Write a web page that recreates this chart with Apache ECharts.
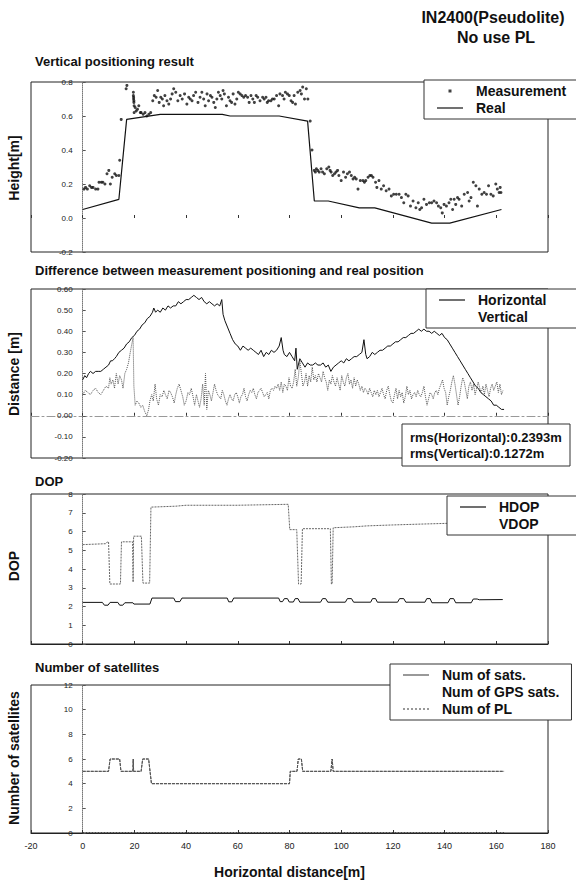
<!DOCTYPE html>
<html><head><meta charset="utf-8">
<script src="https://cdn.jsdelivr.net/npm/echarts@6/dist/echarts.min.js"></script>
<style>html,body{margin:0;padding:0;background:#fff}#c{width:576px;height:880px}</style>
</head><body><div id="c"></div>
<script>
// ---------------- DATA ----------------
const xTicks = [-20, 0, 20, 40, 60, 80, 100, 120, 140, 160, 180];
const heightTicks = [-0.2, 0.0, 0.2, 0.4, 0.6, 0.8];
const distTicks = [-0.2, -0.1, 0.0, 0.1, 0.2, 0.3, 0.4, 0.5, 0.6];
const dopTicks = [0, 1, 2, 3, 4, 5, 6, 7, 8];
const satTicks = [0, 2, 4, 6, 8, 10, 12];

const measurement = [[0.5,0.17],[1.1,0.18],[1.8,0.17],[2.7,0.19],[3.4,0.18],[4.0,0.18],[5.0,0.17],[5.9,0.17],[6.3,0.21],[7.2,0.21],[7.8,0.21],[8.6,0.20],[9.4,0.26],[10.1,0.28],[10.7,0.20],[11.4,0.24],[12.4,0.26],[13.0,0.25],[14.0,0.25],[14.3,0.34],[14.9,0.58],
[16.8,0.76],[17.1,0.78],
[19.6,0.74],[19.6,0.72],[19.7,0.71],[19.7,0.70],[19.8,0.69],[19.8,0.68],[19.9,0.66],[19.9,0.62],[20.3,0.65],[20.7,0.63],[21.2,0.64],[21.7,0.66],[22.3,0.62],[22.6,0.62],[23.4,0.61],[24.1,0.62],[24.8,0.60],[25.6,0.61],[26.3,0.62],
[27.1,0.69],[27.7,0.72],[28.4,0.71],[29.0,0.75],[29.6,0.68],[30.2,0.71],[30.8,0.70],[31.3,0.66],[31.8,0.72],[32.6,0.69],[33.3,0.67],[34.0,0.70],[34.6,0.73],[35.2,0.76],[36.0,0.74],[36.8,0.69],[37.7,0.72],[38.5,0.70],[39.4,0.73],[40.3,0.67],[41.0,0.71],[41.6,0.70],[42.3,0.69],[42.9,0.72],[43.7,0.74],[44.6,0.68],[45.4,0.71],[46.1,0.74],[46.8,0.70],[47.4,0.66],[48.1,0.73],[48.7,0.69],[49.4,0.72],[50.0,0.71],[50.7,0.68],[51.3,0.65],[51.9,0.70],[52.5,0.74],[53.2,0.72],[53.8,0.70],[54.3,0.75],[54.8,0.73],[55.6,0.66],[56.4,0.71],[57.0,0.69],[57.6,0.68],[58.2,0.73],[58.9,0.67],[59.6,0.70],[60.2,0.74],[60.9,0.73],[61.6,0.72],[62.3,0.71],[63.0,0.72],[63.8,0.71],[64.4,0.68],[65.1,0.72],[65.8,0.70],[66.4,0.68],[67.1,0.72],[67.7,0.71],[68.6,0.69],[69.6,0.71],[70.2,0.70],[70.9,0.71],[71.4,0.68],[71.9,0.69],[72.8,0.69],[73.4,0.70],[74.1,0.70],[75.0,0.72],[75.8,0.66],[76.3,0.73],[77.3,0.72],[77.9,0.70],[78.4,0.74],[79.2,0.73],[79.9,0.72],[80.6,0.69],[81.2,0.68],[81.8,0.72],[82.3,0.67],[83.2,0.74],[84.1,0.75],[84.6,0.73],[85.1,0.77],[85.8,0.70],[86.5,0.76],[87.1,0.70],
[88.0,0.57],[88.7,0.40],
[89.6,0.28],[90.0,0.27],[90.4,0.29],[90.9,0.28],[91.5,0.27],[92.2,0.29],[92.8,0.27],[93.5,0.26],[94.4,0.29],[95.2,0.30],[95.7,0.28],[96.1,0.27],[96.7,0.25],[97.4,0.26],[98.0,0.27],[98.6,0.28],[99.1,0.25],[100.0,0.22],[100.9,0.27],[101.7,0.24],[102.4,0.26],[103.2,0.27],[103.9,0.25],[104.6,0.23],[105.2,0.24],[105.8,0.23],[106.5,0.17],[107.4,0.22],[108.4,0.22],[109.0,0.21],[109.5,0.22],[110.4,0.24],[111.1,0.25],[111.7,0.25],[112.3,0.24],[113.3,0.21],[113.8,0.18],[114.6,0.22],[115.5,0.17],[116.4,0.19],[117.4,0.16],[118.5,0.17],[119.4,0.13],[120.3,0.14],[121.3,0.14],[122.4,0.14],[123.3,0.12],[124.2,0.09],[125.0,0.14],[125.9,0.13],[126.8,0.07],[127.8,0.10],[128.9,0.06],[129.8,0.09],[130.4,0.05],[131.1,0.06],[132.0,0.11],[133.0,0.08],[134.1,0.09],[135.0,0.09],[135.9,0.10],[136.9,0.09],[137.6,0.07],[138.5,0.06],[139.1,0.03],[139.8,0.08],[140.7,0.07],[141.7,0.09],[142.4,0.11],[143.1,0.05],[143.7,0.11],[144.3,0.08],[145.0,0.12],[145.6,0.11],[146.6,0.07],[147.6,0.14],[148.9,0.15],[149.5,0.10],[150.2,0.12],[151.1,0.21],[152.1,0.19],[152.7,0.07],[153.4,0.17],[154.4,0.14],[155.3,0.15],[156.2,0.14],[157.0,0.19],[157.9,0.14],[158.8,0.13],[159.8,0.20],[160.4,0.17],[161.1,0.15],[161.5,0.18],[161.8,0.15]];

const realHeight = [[0,0.05],[14,0.11],[17,0.58],[30,0.61],[54,0.61],[57,0.60],[76,0.60],[87,0.57],[89.6,0.10],[95,0.10],[107,0.06],[113,0.06],[135,-0.03],[142,-0.03],[162,0.05]];

const horizontalErr = [[0,0.17],[0.8,0.19],[1.5,0.18],[2.3,0.20],[3,0.21],[4,0.20],[5,0.21],[6,0.21],[7,0.21],[8,0.22],[9,0.23],[10,0.24],[10.8,0.26],[11.5,0.26],[12.3,0.27],[13,0.28],[14,0.30],[15,0.31],[16,0.32],[17,0.34],[18,0.35],[19,0.37],[20,0.38],[21,0.40],[22,0.41],[23,0.43],[24,0.44],[25,0.46],[26,0.47],[27,0.49],[27.5,0.51],[28.2,0.49],[29,0.50],[30,0.49],[31,0.51],[32,0.50],[33,0.52],[34,0.51],[35,0.52],[36,0.52],[37,0.54],[38,0.53],[39,0.54],[40,0.55],[41,0.55],[42,0.56],[43,0.57],[44,0.56],[45,0.55],[46,0.56],[47,0.54],[48,0.53],[49,0.54],[50,0.53],[51,0.52],[52,0.53],[53,0.52],[53.8,0.55],[54.3,0.48],[55,0.45],[56,0.42],[57,0.39],[58,0.36],[59,0.34],[60,0.33],[61,0.31],[62,0.33],[63,0.32],[64,0.31],[65,0.32],[66,0.31],[67,0.30],[68,0.29],[69,0.31],[70,0.28],[71,0.30],[72,0.29],[73,0.31],[74,0.30],[75,0.31],[76,0.33],[76.8,0.37],[77.5,0.31],[78,0.29],[79,0.28],[80,0.30],[81,0.28],[82,0.26],[82.5,0.32],[83,0.22],[84,0.27],[85,0.25],[86,0.23],[87,0.25],[88,0.24],[89,0.24],[90,0.25],[91,0.24],[92,0.24],[93,0.25],[94,0.23],[95,0.24],[96,0.21],[97,0.23],[98,0.24],[99,0.25],[100,0.26],[101,0.25],[102,0.27],[103,0.26],[104,0.27],[105,0.28],[106,0.28],[107,0.29],[108,0.30],[108.8,0.36],[109.5,0.29],[110,0.27],[111,0.28],[112,0.30],[113,0.29],[114,0.30],[115,0.31],[116,0.31],[117,0.32],[118,0.33],[119,0.33],[120,0.34],[121,0.35],[122,0.35],[123,0.36],[124,0.37],[125,0.37],[126,0.38],[127,0.39],[128,0.39],[129,0.40],[130,0.41],[131,0.40],[132,0.41],[133,0.40],[134,0.40],[135,0.39],[136,0.40],[137,0.39],[138,0.38],[139,0.39],[140,0.37],[141,0.36],[142,0.34],[143,0.32],[144,0.30],[145,0.28],[146,0.26],[147,0.24],[148,0.22],[149,0.20],[150,0.18],[151,0.16],[152,0.14],[153,0.13],[154,0.11],[155,0.10],[156,0.09],[157,0.08],[158,0.07],[159,0.05],[160,0.05],[161,0.04],[162,0.03],[163,0.03]];

const verticalErr = [[0,0.10],[1,0.12],[2,0.11],[3,0.10],[4,0.12],[5,0.13],[6,0.11],[7,0.10],[8,0.12],[9,0.14],[10,0.13],[10.5,0.18],[11,0.15],[11.7,0.17],[12.3,0.13],[13,0.20],[13.7,0.15],[14.3,0.19],[15,0.17],[15.6,0.13],[16.3,0.20],[17,0.22],[17.7,0.25],[18.4,0.30],[19,0.34],[19.5,0.37],[19.8,0.14],[20.3,0.05],[21,0.07],[21.7,0.06],[22.5,0.04],[23.2,0.05],[24,0.02],[24.8,0.00],[25.5,0.03],[26,0.07],[26.7,0.10],[27.3,0.07],[28,0.15],[28.6,0.08],[29.3,0.05],[30,0.10],[30.7,0.09],[31.4,0.12],[32,0.10],[32.7,0.08],[33.4,0.12],[34,0.11],[34.7,0.09],[35.4,0.06],[36,0.10],[36.6,0.13],[37.3,0.15],[38,0.12],[38.7,0.09],[39.3,0.05],[40,0.07],[40.7,0.11],[41.3,0.10],[42,0.13],[42.7,0.09],[43.3,0.05],[44,0.10],[44.6,0.07],[45.2,0.04],[45.8,0.08],[46.4,0.15],[47,0.05],[47.5,0.20],[48,0.03],[48.6,0.12],[49.2,0.10],[49.8,0.07],[50.4,0.11],[51,0.15],[51.6,0.12],[52.2,0.10],[52.8,0.09],[53.4,0.08],[54,0.12],[54.6,0.10],[55.2,0.07],[55.8,0.05],[56.4,0.08],[57,0.10],[57.6,0.08],[58.2,0.07],[58.8,0.10],[59.4,0.11],[60,0.09],[60.6,0.06],[61.2,0.09],[61.8,0.10],[62.4,0.13],[63,0.09],[63.6,0.07],[64.2,0.10],[64.8,0.12],[65.4,0.11],[66,0.13],[66.6,0.10],[67.2,0.08],[67.8,0.11],[68.4,0.12],[69,0.13],[69.6,0.11],[70.2,0.09],[70.8,0.10],[71.4,0.11],[72,0.08],[72.6,0.12],[73.2,0.13],[73.8,0.12],[74.4,0.14],[75,0.13],[75.6,0.15],[76.2,0.12],[76.8,0.16],[77.4,0.11],[78,0.15],[78.6,0.14],[79.2,0.12],[79.8,0.18],[80.4,0.14],[81,0.13],[81.6,0.16],[82.2,0.22],[82.8,0.14],[83.4,0.18],[84,0.26],[84.6,0.20],[85.2,0.14],[85.8,0.16],[86.4,0.20],[87,0.14],[87.6,0.19],[88.2,0.16],[88.8,0.23],[89.4,0.17],[90,0.19],[90.6,0.16],[91.2,0.20],[91.8,0.18],[92.4,0.16],[93,0.21],[93.6,0.18],[94.2,0.16],[94.8,0.12],[95.4,0.17],[96,0.15],[96.6,0.19],[97.2,0.16],[97.8,0.14],[98.4,0.18],[99,0.15],[99.6,0.12],[100.2,0.19],[100.8,0.16],[101.4,0.14],[102,0.18],[102.6,0.20],[103.2,0.15],[103.8,0.17],[104.4,0.13],[105,0.18],[105.6,0.14],[106.2,0.17],[106.8,0.15],[107.4,0.12],[108,0.14],[108.6,0.11],[109.2,0.13],[109.8,0.12],[110.4,0.10],[111,0.13],[111.6,0.11],[112.2,0.09],[112.8,0.12],[113.4,0.10],[114,0.12],[114.6,0.09],[115.2,0.11],[115.8,0.13],[116.4,0.10],[117,0.08],[117.6,0.12],[118.2,0.14],[118.8,0.10],[119.4,0.07],[120,0.06],[120.6,0.10],[121.2,0.13],[121.8,0.08],[122.4,0.12],[123,0.09],[123.6,0.11],[124.2,0.06],[124.8,0.09],[125.4,0.14],[126,0.10],[126.6,0.12],[127.2,0.08],[127.8,0.10],[128.4,0.11],[129,0.09],[129.6,0.12],[130.2,0.10],[130.8,0.09],[131.4,0.11],[132,0.14],[132.6,0.09],[133.2,0.05],[133.8,0.08],[134.4,0.11],[135,0.10],[135.6,0.08],[136.2,0.11],[136.8,0.12],[137.4,0.10],[138,0.13],[138.6,0.15],[139.2,0.17],[139.8,0.13],[140.4,0.11],[141,0.05],[141.6,0.09],[142.2,0.12],[142.8,0.16],[143.4,0.19],[144,0.15],[144.6,0.10],[145.2,0.05],[145.8,0.09],[146.4,0.14],[147,0.18],[147.6,0.16],[148.2,0.12],[148.8,0.08],[149.4,0.14],[150,0.16],[150.6,0.12],[151.2,0.15],[151.8,0.10],[152.4,0.13],[153,0.16],[153.6,0.13],[154.2,0.11],[154.8,0.14],[155.4,0.10],[156,0.15],[156.6,0.12],[157.2,0.09],[157.8,0.13],[158.4,0.15],[159,0.12],[159.6,0.14],[160.2,0.16],[160.8,0.11],[161.4,0.15],[162,0.10],[162.6,0.12]];

const hdop = [[0,2.22],[7.6,2.22],[8.4,2.07],[9.8,2.07],[10.6,2.22],[13.6,2.22],[14.3,2.07],[15.5,2.07],[16.3,2.2],[19.4,2.2],[19.8,2.13],[26,2.13],[26.8,2.45],[35.2,2.45],[35.9,2.26],[37.6,2.26],[38.4,2.45],[55.9,2.45],[56.5,2.25],[57.7,2.25],[58.4,2.45],[75.8,2.45],[76.4,2.26],[77.3,2.26],[78,2.42],[79.2,2.42],[79.9,2.24],[81.5,2.24],[82.2,2.42],[83.3,2.42],[84,2.23],[92,2.23],[92.8,2.42],[94,2.42],[94.8,2.23],[101.6,2.23],[102.4,2.42],[104,2.42],[104.8,2.23],[111.4,2.23],[112.1,2.42],[113.3,2.42],[114,2.23],[121.8,2.23],[122.6,2.42],[124.2,2.42],[125,2.23],[132.4,2.23],[133.1,2.42],[134.4,2.42],[135.1,2.2],[141.3,2.2],[142.1,2.42],[143.5,2.42],[144.3,2.2],[150.3,2.2],[151.1,2.4],[152.6,2.4],[153.4,2.36],[162.5,2.37]];

const vdop = [[0,5.3],[9,5.35],[9.6,5.45],[10,5.45],[10.5,3.2],[14.6,3.2],[15,5.45],[19.3,5.45],[19.5,3.3],[19.7,5.75],[22.7,5.75],[23.3,3.25],[25.9,3.25],[26.4,7.3],[36,7.35],[40,7.4],[60,7.4],[79.5,7.45],[80.1,6.1],[82.8,6.1],[83.5,3.2],[84.5,3.2],[85,6.15],[95.8,6.15],[96.2,3.2],[96.5,3.2],[96.9,6.2],[105,6.25],[110,6.3],[120,6.35],[132,6.4],[145,6.45],[163,6.45]];

const numSats = [[0,5],[10,5],[10.6,6],[14.3,6],[14.8,5],[19.4,5],[19.55,6],[19.7,5],[22.6,5],[23.2,6],[25.5,6],[26.6,4],[80,4],[80.3,5],[82.9,5],[83.4,6],[84.6,6],[85.1,5],[96,5],[96.5,6],[96.9,5],[163,5]];
const numGpsSats = [[0,5],[10,5],[10.6,6],[14.3,6],[14.8,5],[19.4,5],[19.55,6],[19.7,5],[22.6,5],[23.2,6],[25.5,6],[26.6,4],[80,4],[80.3,5],[82.9,5],[83.4,6],[84.6,6],[85.1,5],[96,5],[96.5,6],[96.9,5],[163,5]];
const numPL = [[0,0],[163,0]];

// ---------------- CHART ----------------
const FONT = '"Liberation Sans", Arial, Helvetica, sans-serif';
const chart = echarts.init(document.getElementById('c'), null, {renderer: 'svg', width: 576, height: 880});

const GRID_LEFT = 31, GRID_RIGHT = 28, W = 576;
const grids = [
  {top: 82, height: 170},
  {top: 289, height: 169},
  {top: 494, height: 150},
  {top: 685, height: 148}
];
const yTickSets = [heightTicks, distTicks, dopTicks, satTicks];
const yFmt = [v => v.toFixed(1), v => v.toFixed(2), v => String(Math.round(v)), v => String(Math.round(v))];

// axis placement: y axis sits at x = 0, x axis sits at y = 0 (as in the reference)
const plotW = W - GRID_LEFT - GRID_RIGHT;
const xMin = xTicks[0], xMax = xTicks[xTicks.length - 1];
const yAxisShift = -plotW * (0 - xMin) / (xMax - xMin);
const xAxisShift = grids.map((g, i) => {
  const t = yTickSets[i];
  return -g.height * (0 - t[0]) / (t[t.length - 1] - t[0]);
});

const boldText = {fontSize: 14, fontWeight: 'bold', color: '#111', fontFamily: FONT};

const xAxes = grids.map((g, i) => ({
  gridIndex: i, type: 'value',
  min: xMin, max: xMax, interval: xTicks[1] - xTicks[0],
  offset: xAxisShift[i],
  axisLine: {show: i !== 0, onZero: false,
    lineStyle: {color: i === 1 ? '#999' : '#222', width: 1, type: i === 1 ? [8, 3, 2, 3] : 'solid'}},
  axisTick: {show: true, inside: true, length: 3, lineStyle: {color: '#333'}},
  axisLabel: {show: i === 3, fontSize: 9, color: '#222', margin: 8, fontFamily: FONT},
  splitLine: {show: false},
  name: i === 3 ? 'Horizontal distance[m]' : '', nameLocation: 'middle', nameGap: 32,
  nameTextStyle: boldText
}));

const yAxes = grids.map((g, i) => {
  const t = yTickSets[i];
  return {
    gridIndex: i, type: 'value',
    min: t[0], max: t[t.length - 1], interval: +(t[1] - t[0]).toFixed(4),
    offset: yAxisShift,
    axisLine: {show: true, onZero: false, lineStyle: {color: '#777', type: 'dotted'}},
    axisTick: {show: true, inside: true, length: 3, lineStyle: {color: '#555'}},
    axisLabel: {fontSize: 8, color: '#222', margin: 10, fontFamily: FONT, formatter: yFmt[i]},
    splitLine: {show: false}
  };
});

const lineS = (name, data, idx, color, type, width) => ({
  name, type: 'line', data, xAxisIndex: idx, yAxisIndex: idx,
  showSymbol: false, symbol: 'none', animation: false,
  lineStyle: {color, width: width || 1, type: type || 'solid'},
  itemStyle: {color}
});

const ICON_LINE = 'path://M0,0M42,14M8,6.4L34,6.4L34,7.6L8,7.6Z';
const ICON_DOT = 'path://M0,0M42,14M19.5,5.5L22.5,5.5L22.5,8.5L19.5,8.5Z';
const ICON_DOTTED = 'path://M0,0M42,14M8,6.5h2v1h-2zM12,6.5h2v1h-2zM16,6.5h2v1h-2zM20,6.5h2v1h-2zM24,6.5h2v1h-2zM28,6.5h2v1h-2zM32,6.5h2v1h-2z';
const ICON_BLANK = 'path://M0,0M42,14M21,7L21.01,7L21.01,7.01Z';

const legendBase = {
  orient: 'vertical', backgroundColor: '#fff', borderColor: '#333', borderWidth: 1,
  itemGap: 3, itemWidth: 42, itemHeight: 14, selectedMode: false,
  itemStyle: {borderWidth: 0}, textStyle: boldText, z: 10
};

const yNameText = (text, cy) => ({
  type: 'text', x: 14, y: cy, rotation: Math.PI / 2, z: 100,
  style: {text, font: 'bold 14px ' + FONT, fill: '#111', textAlign: 'center', textVerticalAlign: 'middle', align: 'center', verticalAlign: 'middle'}
});

const option = {
  animation: false,
  backgroundColor: '#fff',
  grid: grids.map(g => Object.assign({show: true, left: GRID_LEFT, right: GRID_RIGHT, borderColor: '#222', borderWidth: 1, backgroundColor: 'transparent', containLabel: false, outerBoundsMode: 'none'}, g)),
  xAxis: xAxes,
  yAxis: yAxes,
  title: [
    {text: 'Vertical positioning result', left: 35, top: 55, padding: 0, textStyle: {fontSize: 13, fontWeight: 'bold', color: '#111', fontFamily: FONT}},
    {text: 'Difference between measurement positioning and real position', left: 35, top: 264, padding: 0, textStyle: {fontSize: 13, fontWeight: 'bold', color: '#111', fontFamily: FONT}},
    {text: 'DOP', left: 35, top: 475, padding: 0, textStyle: {fontSize: 13, fontWeight: 'bold', color: '#111', fontFamily: FONT}},
    {text: 'Number of satellites', left: 35, top: 661, padding: 0, textStyle: {fontSize: 13, fontWeight: 'bold', color: '#111', fontFamily: FONT}}
  ],
  legend: [
    Object.assign({}, legendBase, {left: 424, top: 80, padding: [4, 30, 4, 5],
      data: [{name: 'Measurement', icon: ICON_DOT}, {name: 'Real', icon: ICON_LINE}]}),
    Object.assign({}, legendBase, {left: 426, top: 289, padding: [4, 40, 4, 5],
      data: [{name: 'Horizontal', icon: ICON_LINE}, {name: 'Vertical', icon: ICON_BLANK}]}),
    Object.assign({}, legendBase, {left: 447, top: 496, padding: [4, 60, 4, 5],
      data: [{name: 'HDOP', icon: ICON_LINE}, {name: 'VDOP', icon: ICON_BLANK}]}),
    Object.assign({}, legendBase, {left: 390, top: 664, padding: [4, 12, 4, 5],
      data: [{name: 'Num of sats.', icon: ICON_LINE}, {name: 'Num of GPS sats.', icon: ICON_BLANK}, {name: 'Num of PL', icon: ICON_DOTTED}]})
  ],
  graphic: [
    {type: 'text', x: 493, y: 17, z: 100, style: {text: 'IN2400(Pseudolite)', font: 'bold 16px ' + FONT, fill: '#111', textAlign: 'center', textVerticalAlign: 'middle', align: 'center', verticalAlign: 'middle'}},
    {type: 'text', x: 496, y: 37, z: 100, style: {text: 'No use PL', font: 'bold 16px ' + FONT, fill: '#111', textAlign: 'center', textVerticalAlign: 'middle', align: 'center', verticalAlign: 'middle'}},
    yNameText('Height[m]', 168),
    yNameText('Distance [m]', 374),
    yNameText('DOP', 566),
    yNameText('Number of satellites', 758),
    {type: 'rect', z: 100, shape: {x: 402, y: 424, width: 168, height: 42}, style: {fill: '#fff', stroke: '#333', lineWidth: 1}},
    {type: 'text', x: 410, y: 437, z: 101, style: {text: 'rms(Horizontal):0.2393m', font: 'bold 13px ' + FONT, fill: '#111', textVerticalAlign: 'middle', verticalAlign: 'middle'}},
    {type: 'text', x: 410, y: 453, z: 101, style: {text: 'rms(Vertical):0.1272m', font: 'bold 13px ' + FONT, fill: '#111', textVerticalAlign: 'middle', verticalAlign: 'middle'}}
  ],
  series: [
    {name: 'Measurement', type: 'scatter', data: measurement, xAxisIndex: 0, yAxisIndex: 0,
      symbol: 'circle', symbolSize: 3, itemStyle: {color: '#111'}},
    lineS('Real', realHeight, 0, '#111', 'solid', 1.2),
    lineS('Horizontal', horizontalErr, 1, '#111', 'solid', 1),
    lineS('Vertical', verticalErr, 1, '#555', 'dotted', 1),
    lineS('HDOP', hdop, 2, '#111', 'solid', 1),
    lineS('VDOP', vdop, 2, '#666', [2, 1], 1),
    lineS('Num of sats.', numSats, 3, '#555', [3, 1], 1),
    lineS('Num of GPS sats.', numGpsSats, 3, '#555', [3, 1], 1),
    lineS('Num of PL', numPL, 3, '#333', 'dotted', 1.5)
  ]
};
chart.setOption(option);
</script></body></html>
